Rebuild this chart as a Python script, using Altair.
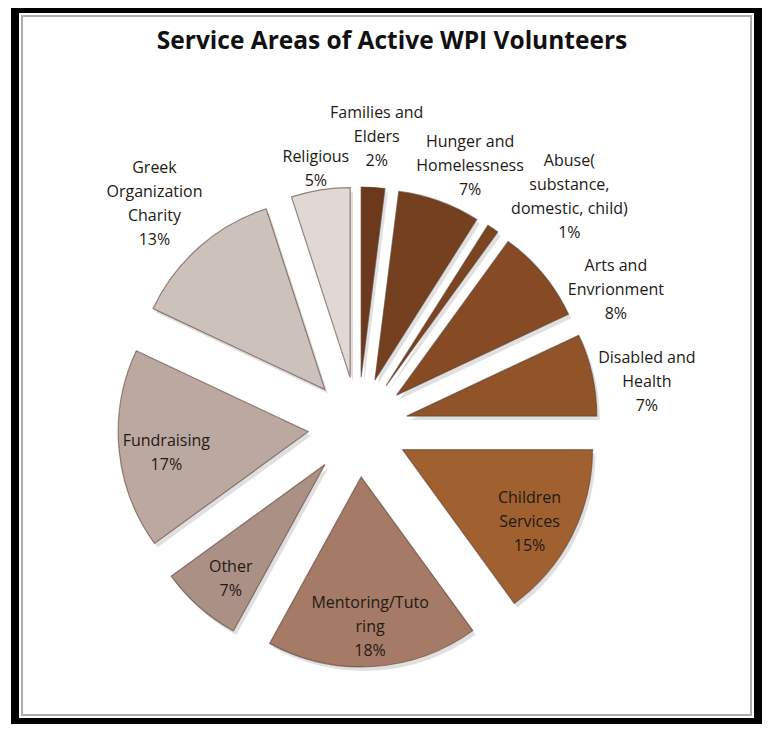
import math
import altair as alt
import pandas as pd

# ---- data ----
categories = ["Families and Elders", "Hunger and Homelessness",
              "Abuse( substance, domestic, child)", "Arts and Envrionment",
              "Disabled and Health", "Children Services", "Mentoring/Tutoring",
              "Other", "Fundraising", "Greek Organization Charity", "Religious"]
label_lines = ["Families and\nElders", "Hunger and\nHomelessness",
               "Abuse(\nsubstance,\ndomestic, child)", "Arts and\nEnvrionment",
               "Disabled and\nHealth", "Children\nServices", "Mentoring/Tuto\nring",
               "Other", "Fundraising", "Greek\nOrganization\nCharity", "Religious"]
percent = [2, 7, 1, 8, 7, 15, 18, 7, 17, 13, 5]
colors = ["#6c391c", "#75401f", "#7c4421", "#864b25", "#915328", "#a0602f",
          "#a57a66", "#ab9085", "#bba9a1", "#cdc1bb", "#e0d8d4"]

# ---- layout constants ----
W, H = 743, 713
CX, CY = 343, 418      # pie centre inside the plot area (px)
D = 50                 # explosion distance (px)
R = 190                # slice radius (px)
FS, LH, CW = 16, 24, 8.0   # label font size, line height, mean char width
GAP_DEG = 19           # minimum angular spacing between outside labels
PUSH = 3.0             # px of outward push per degree of remaining crowding
LABEL_DY = 8           # text block vertical optical correction (px, downwards)

# ---- label placement (derived from the values) ----
mids, cum = [], 0.0
for p in percent:
    mids.append((cum + p / 2) / 100 * 360)
    cum += p
inside = [100 < m < 300 for m in mids]

# spread outside labels clockwise so that neighbours keep a minimum angle
angles = list(mids)
prev = None
for i, m in enumerate(mids):
    if inside[i]:
        continue
    if prev is not None:
        angles[i] = max(m, prev + GAP_DEG)
    prev = angles[i]

out_idx = [i for i in range(len(mids)) if not inside[i]]
texts, lxs, lys = [], [], []
for i, (lines, p) in enumerate(zip(label_lines, percent)):
    text = lines + "\n" + str(p) + "%"
    rows = text.split("\n")
    n = len(rows)
    ang = angles[i]
    a = math.radians(ang)
    if inside[i]:
        dist = D + 0.75 * R
    else:
        half_w = max(len(r) for r in rows) * CW / 2
        half_h = n * LH / 2
        dist = D + R + abs(math.sin(a)) * half_w + abs(math.cos(a)) * half_h
        # remaining crowding with the previous outside label (cyclic)
        k = out_idx.index(i)
        prev_ang = angles[out_idx[k - 1]]
        gap = (ang - prev_ang) % 360
        dist += max(0.0, GAP_DEG - gap) * PUSH
    texts.append(text)
    lxs.append(math.sin(a) * dist / D)
    # anchor of the first line so that the text block is centred
    lys.append((math.cos(a) * dist + (n - 1) * LH / 2 - LABEL_DY) / D)

df = pd.DataFrame({
    "category": categories,
    "order": list(range(len(categories))),
    "percent": percent,
    "label": texts,
    "lx": lxs,
    "ly": lys,
})

xs = alt.Scale(domain=[-CX / D, (W - CX) / D])
ys = alt.Scale(domain=[-(H - CY) / D, CY / D])

base = alt.Chart(df).transform_window(
    cum="sum(percent)", sort=[alt.SortField("order")], frame=[None, 0]
).transform_calculate(
    t1="datum.cum / 100 * 2 * PI",
    t0="(datum.cum - datum.percent) / 100 * 2 * PI",
).transform_calculate(
    mid="(datum.t0 + datum.t1) / 2"
).transform_calculate(
    ux="sin(datum.mid)",
    uy="cos(datum.mid)",
)

shadow = base.mark_arc(outerRadius=R, fill="#000000", opacity=0.12,
                       xOffset=3, yOffset=4).encode(
    x=alt.X("ux:Q", scale=xs, axis=None),
    y=alt.Y("uy:Q", scale=ys, axis=None),
    theta=alt.Theta("t0:Q", scale=None),
    theta2="t1:Q",
)

slices = base.mark_arc(outerRadius=R, stroke="#5b4033", strokeWidth=1.2,
                       strokeOpacity=0.6).encode(
    x=alt.X("ux:Q", scale=xs, axis=None),
    y=alt.Y("uy:Q", scale=ys, axis=None),
    theta=alt.Theta("t0:Q", scale=None),
    theta2="t1:Q",
    color=alt.Color("category:N", scale=alt.Scale(domain=categories, range=colors),
                    legend=None),
    order=alt.Order("order:Q"),
)

labels = alt.Chart(df).mark_text(font="Open Sans", fontSize=FS, lineBreak="\n",
                                 lineHeight=LH, align="center", baseline="middle",
                                 color="#231a15").encode(
    x=alt.X("lx:Q", scale=xs, axis=None),
    y=alt.Y("ly:Q", scale=ys, axis=None),
    text="label:N",
)

title = alt.Chart(pd.DataFrame({"t": ["Service Areas of Active WPI Volunteers"]})).mark_text(
    font="Open Sans", fontSize=24.5, fontWeight="bold", color="#111111",
    align="center", baseline="middle").encode(
    x=alt.value(377), y=alt.value(33), text="t:N")

inner = alt.Chart(pd.DataFrame({"a": [0]})).mark_rect(
    fill=None, stroke="#adadad", strokeWidth=2).encode(
    x=alt.value(7), x2=alt.value(W - 7), y=alt.value(7), y2=alt.value(H - 7))

chart = alt.layer(inner, shadow, slices, labels, title).properties(
    width=W, height=H,
    autosize=alt.AutoSizeParams(type="none"),
    padding={"left": 7, "top": 1, "right": 4, "bottom": 2},
    background="white",
).configure_view(stroke="black", strokeWidth=8)

chart.save("out.html", embed_options={"renderer": "svg", "actions": False})
